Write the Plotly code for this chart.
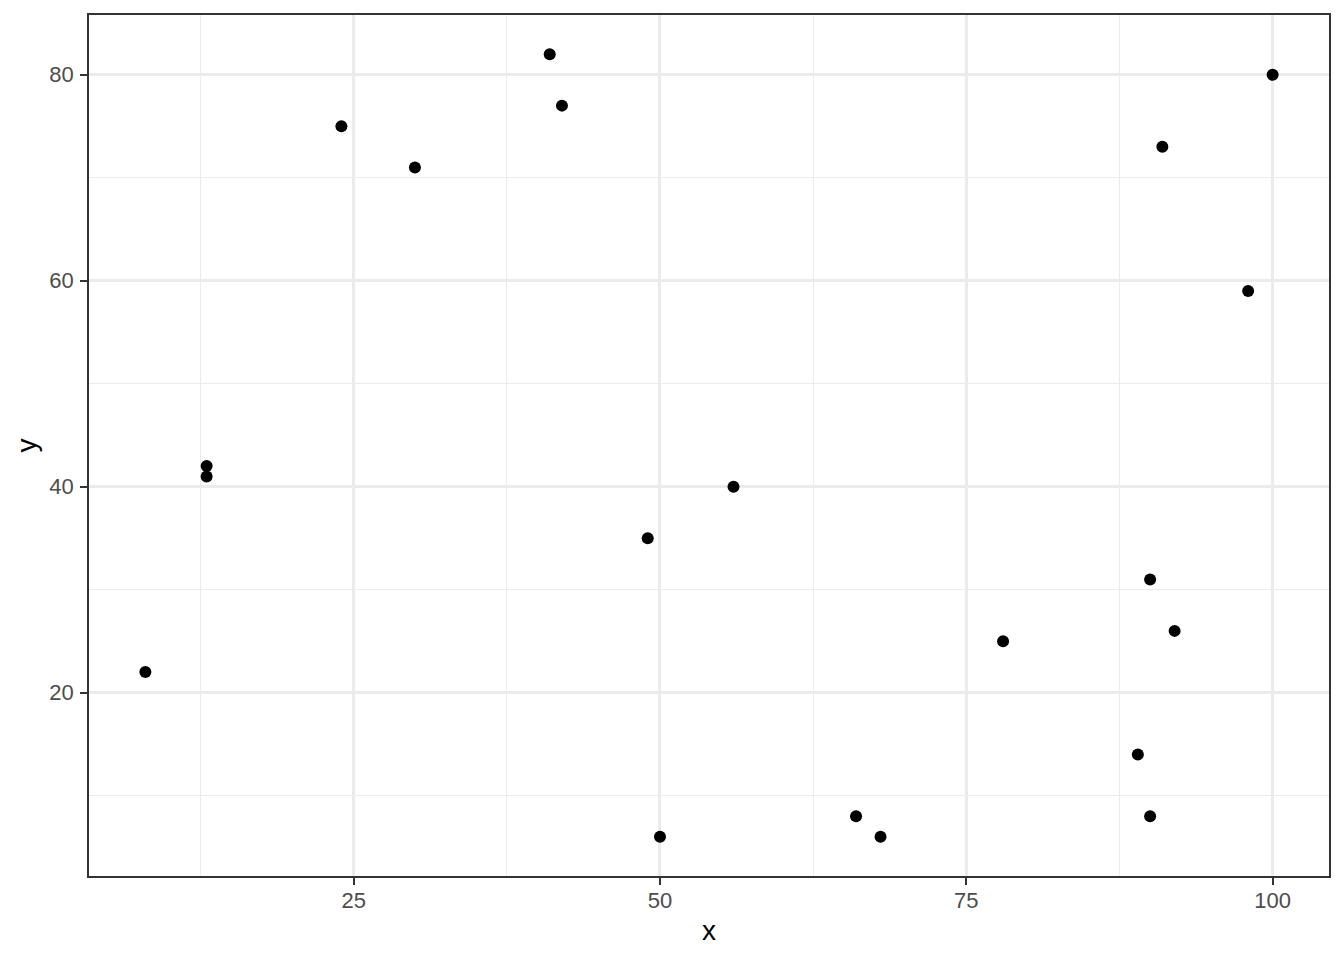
import plotly.graph_objects as go

x_vals = [8, 13, 13, 24, 30, 41, 42, 49, 50, 56, 66, 68, 78, 89, 90, 90, 91, 92, 98, 100]
y_vals = [22, 42, 41, 75, 71, 82, 77, 35, 6, 40, 8, 6, 25, 14, 31, 8, 73, 26, 59, 80]

x_ticks = [25, 50, 75, 100]
y_ticks = [20, 40, 60, 80]

FONT = "Liberation Sans, Arial, sans-serif"

fig = go.Figure(go.Scatter(
    x=x_vals, y=y_vals, mode="markers",
    marker=dict(color="black", size=12, line=dict(width=0)),
))

axis_common = dict(
    showline=True, mirror=True, linecolor="#333333", linewidth=1.5,
    ticks="outside", ticklen=7, tickwidth=2, tickcolor="#333333",
    gridcolor="#EBEBEB", gridwidth=2.5,
    minor=dict(showgrid=True, gridcolor="#EBEBEB", gridwidth=1.4, ticks=""),
    zeroline=False,
    tickfont=dict(family=FONT, size=22, color="#4D4D4D"),
    title_font=dict(family=FONT, size=28, color="black"),
)

fig.update_xaxes(axis_common, range=[3.4, 104.6], tickvals=x_ticks,
                 minor_tickvals=[12.5, 37.5, 62.5, 87.5],
                 title_text="x", title_standoff=8, ticklabelstandoff=-3)
fig.update_yaxes(axis_common, range=[2.2, 85.8], tickvals=y_ticks,
                 minor_tickvals=[10, 30, 50, 70],
                 title_text="y", title_standoff=5, ticklabelstandoff=2)

# The page body has an 8px default margin; compensate so the panel
# lands where the reference puts it.
fig.update_layout(
    width=1328, height=944,
    margin=dict(l=81, r=5, t=5, b=76),
    plot_bgcolor="white", paper_bgcolor="white",
    showlegend=False,
)

fig.write_html("out.html")
